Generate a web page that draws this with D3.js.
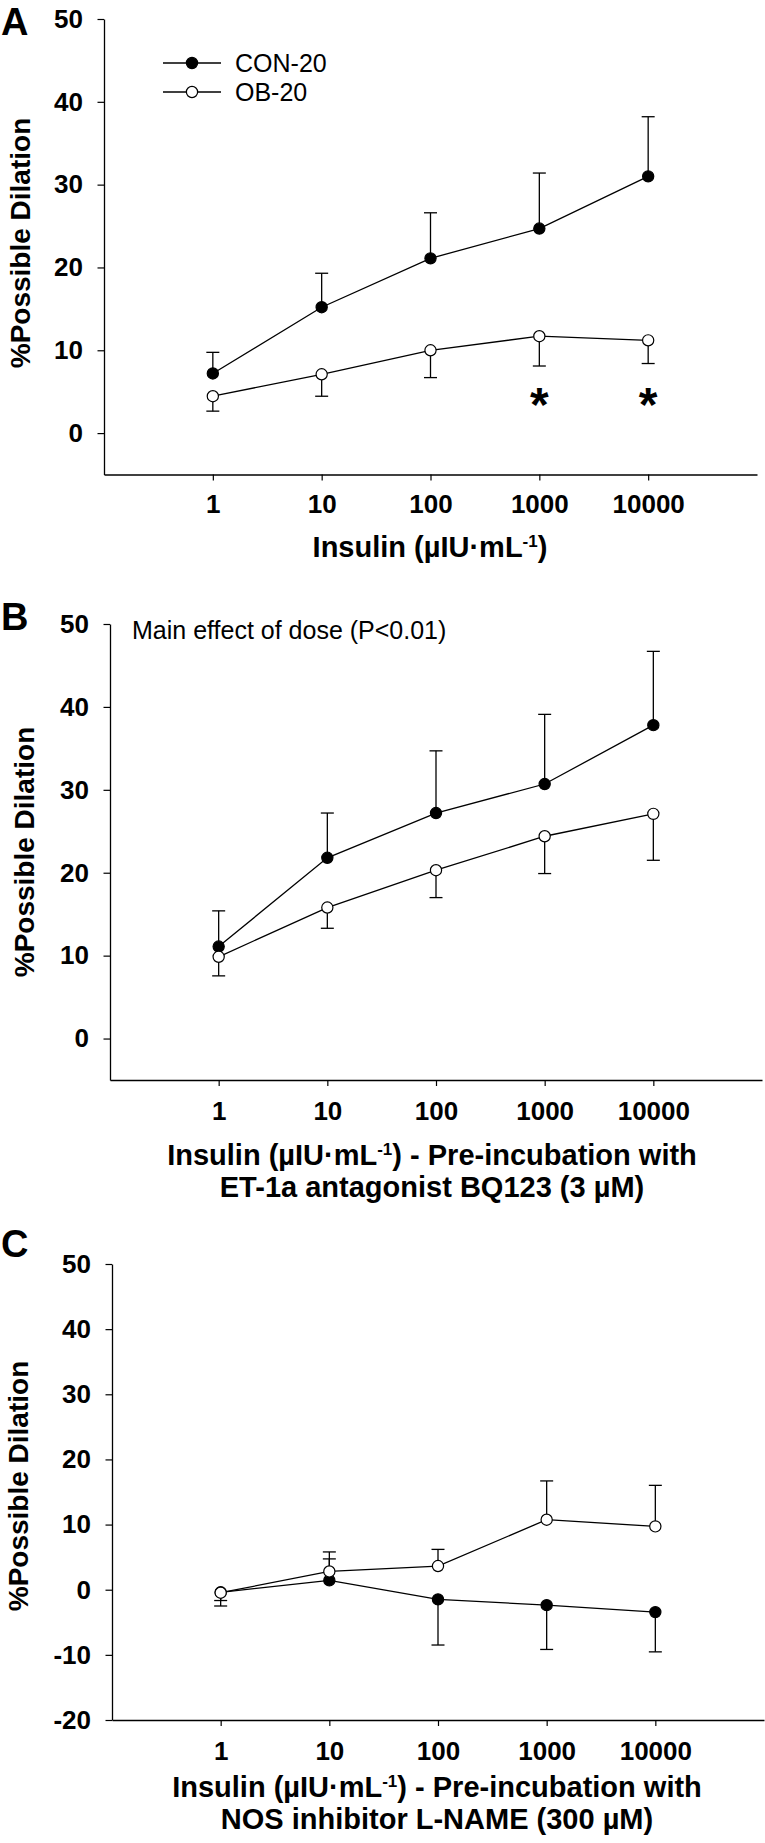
<!DOCTYPE html>
<html><head><meta charset="utf-8">
<script src="https://cdn.jsdelivr.net/npm/d3@7"></script>
<style>
body{margin:0;background:#fff}
svg{display:block}
text{font-family:"Liberation Sans",Arial,Helvetica,sans-serif;fill:#000}
</style>
</head><body><svg id="c" width="765" height="1843"></svg>
<script>
// ---------------- DATA ----------------
const doses = [1, 10, 100, 1000, 10000];
const xTickLabels = ["1", "10", "100", "1000", "10000"];
const yTicksAB = [0, 10, 20, 30, 40, 50];
const yTicksC = [-20, -10, 0, 10, 20, 30, 40, 50];
const seriesNames = ["CON-20", "OB-20"];

// Panel A (mean, signed SE: + drawn up, - drawn down)
const conA    = [7.2, 15.2, 21.1, 24.7, 31.0];
const conAErr = [2.55, 4.1, 5.5, 6.7, 7.2];
const obA     = [4.45, 7.1, 10.0, 11.7, 11.2];
const obAErr  = [-1.8, -2.65, -3.3, -3.6, -2.8];
// Panel B
const conB    = [11.1, 21.8, 27.2, 30.7, 37.8];
const conBErr = [4.3, 5.4, 7.5, 8.4, 8.9];
const obB     = [9.86, 15.8, 20.3, 24.4, 27.1];
const obBErr  = [-2.3, -2.5, -3.3, -4.5, -5.6];
// Panel C
const conC    = [-0.4, 1.43, -1.49, -2.37, -3.44];
const conCErr = [-2.1, 3.3, -7.0, -6.8, -6.1];
const obC     = [-0.46, 2.8, 3.63, 10.75, 9.72];
const obCErr  = [-1.2, 3.0, 2.56, 5.95, 6.3];

const sigDosesA = [1000, 10000];
const annotationB = "Main effect of dose (P<0.01)";
const yTitle = "%Possible Dilation";
const xTitleA = ["Insulin (µIU·mL^-1)"];
const xTitleB = ["Insulin (µIU·mL^-1) - Pre-incubation with", "ET-1a antagonist BQ123 (3 µM)"];
const xTitleC = ["Insulin (µIU·mL^-1) - Pre-incubation with", "NOS inhibitor L-NAME (300 µM)"];

// ---------------- LAYOUT ----------------
const panels = [
  {letter:"A", con:conA, conErr:conAErr, ob:obA, obErr:obAErr, yDomain:[-5,50], yTicks:yTicksAB, xTitle:xTitleA,
   L:{x0:104, x1:757, yTop:19, yBot:474.5, xPad:14, titleX:430, titleY:557, yTitleX:30, yTitleY:243, letterY:35}},
  {letter:"B", con:conB, conErr:conBErr, ob:obB, obErr:obBErr, yDomain:[-5,50], yTicks:yTicksAB, xTitle:xTitleB,
   L:{x0:110, x1:762, yTop:624, yBot:1080, xPad:15.5, titleX:432, titleY:1165, yTitleX:34, yTitleY:852, letterY:630}},
  {letter:"C", con:conC, conErr:conCErr, ob:obC, obErr:obCErr, yDomain:[-20,50], yTicks:yTicksC, xTitle:xTitleC,
   L:{x0:112, x1:764, yTop:1264, yBot:1720, xPad:16, titleX:437, titleY:1797, yTitleX:28, yTitleY:1486, letterY:1257}}
];

const svg = d3.select("#c");
const R = 5.6, CAP = 6.5;

function titleLine(sel, str, x, y) {
  const t = sel.append("text").attr("x", x).attr("y", y).attr("text-anchor", "middle")
    .attr("font-weight", "bold").attr("font-size", 29);
  const parts = str.split("^-1");
  t.append("tspan").text(parts[0]);
  if (parts.length > 1) {
    t.append("tspan").attr("font-size", 17).attr("dy", -10).text("-1");
    t.append("tspan").attr("dy", 10).text(parts[1]);
  }
}

panels.forEach((p, pi) => {
  const L = p.L;
  const x = d3.scaleLog().domain([0.1, 100000]).range([L.x0, L.x1]);
  const y = d3.scaleLinear().domain(p.yDomain).range([L.yBot, L.yTop]);
  const g = svg.append("g");

  // y axis
  const ya = g.append("g").attr("transform", `translate(${L.x0},0)`)
    .call(d3.axisLeft(y).tickValues(p.yTicks).tickFormat(d => String(d)).tickSize(6.5).tickSizeOuter(0).tickPadding(14.5));
  // x axis
  const xa = g.append("g").attr("transform", `translate(0,${L.yBot})`)
    .call(d3.axisBottom(x).tickValues(doses).tickFormat((d, i) => xTickLabels[i]).tickSize(6).tickSizeOuter(0).tickPadding(L.xPad));
  [ya, xa].forEach(a => {
    a.select(".domain").attr("stroke", "#000").attr("stroke-width", 1.3);
    a.selectAll(".tick line").attr("stroke", "#000").attr("stroke-width", 1.2);
    a.selectAll(".tick text").attr("font-family", "Liberation Sans, Arial, sans-serif")
      .attr("font-weight", "bold").attr("font-size", 26).attr("fill", "#000");
  });

  // y title
  g.append("text").attr("transform", `translate(${L.yTitleX},${L.yTitleY}) rotate(-90)`)
    .attr("text-anchor", "middle").attr("font-weight", "bold").attr("font-size", 28).text(yTitle);
  // x title
  p.xTitle.forEach((s, i) => titleLine(g, s, L.titleX, L.titleY + i * 32));
  // panel letter
  g.append("text").attr("x", 1).attr("y", L.letterY).attr("font-weight", "bold").attr("font-size", 38).text(p.letter);

  const series = [
    {vals: p.con, err: p.conErr, fill: "#000"},
    {vals: p.ob, err: p.obErr, fill: "#fff"}
  ];
  const line = d3.line().x((d, i) => x(doses[i])).y(d => y(d));

  // error bars
  series.forEach(s => {
    s.vals.forEach((v, i) => {
      const cx = x(doses[i]), y0 = y(v), y1 = y(v + s.err[i]);
      g.append("line").attr("x1", cx).attr("x2", cx).attr("y1", y0).attr("y2", y1)
        .attr("stroke", "#000").attr("stroke-width", 1.3);
      g.append("line").attr("x1", cx - CAP).attr("x2", cx + CAP).attr("y1", y1).attr("y2", y1)
        .attr("stroke", "#000").attr("stroke-width", 1.3);
    });
  });
  // lines
  series.forEach(s => {
    g.append("path").datum(s.vals).attr("d", line).attr("fill", "none")
      .attr("stroke", "#000").attr("stroke-width", 1.3);
  });
  // markers
  series.forEach(s => {
    g.selectAll(null).data(s.vals).enter().append("circle")
      .attr("cx", (d, i) => x(doses[i])).attr("cy", d => y(d)).attr("r", R)
      .attr("fill", s.fill).attr("stroke", "#000").attr("stroke-width", 1.2);
  });

  if (pi === 0) {
    // legend
    seriesNames.forEach((nm, i) => {
      const ly = 63 + i * 29;
      g.append("line").attr("x1", 163).attr("x2", 221).attr("y1", ly).attr("y2", ly)
        .attr("stroke", "#000").attr("stroke-width", 1.3);
      g.append("circle").attr("cx", 192).attr("cy", ly).attr("r", R)
        .attr("fill", series[i].fill).attr("stroke", "#000").attr("stroke-width", 1.2);
      g.append("text").attr("x", 235).attr("y", ly + 9).attr("font-size", 25).text(nm);
    });
    // significance asterisks
    sigDosesA.forEach(d => {
      g.append("text").attr("x", x(d)).attr("y", y(1.5)).attr("text-anchor", "middle")
        .attr("font-weight", "bold").attr("font-size", 48).text("*");
    });
  }
  if (pi === 1) {
    g.append("text").attr("x", 132).attr("y", 639).attr("font-size", 25).text(annotationB);
  }
});
</script>
</body></html>
